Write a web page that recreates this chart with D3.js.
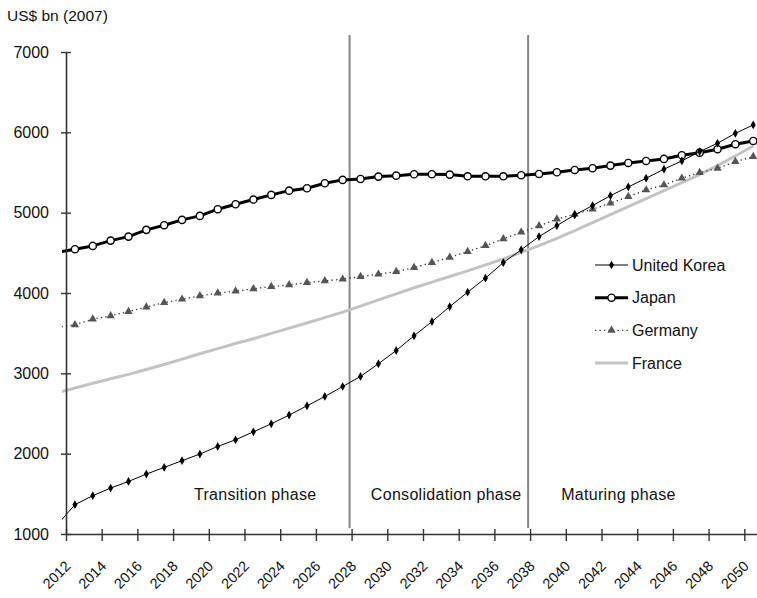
<!DOCTYPE html>
<html>
<head>
<meta charset="utf-8">
<script src="https://cdn.jsdelivr.net/npm/d3@7"></script>
<style>
  body { margin: 0; background: #fff; }
  text { font-family: "Liberation Sans", Arial, sans-serif; fill: #111; }
</style>
</head>
<body>
<svg id="chart" width="757" height="598"></svg>
<script>
// Years: 2011 is only the lead-in left of the axis (it gets clipped)
const years = d3.range(2011, 2051);

// US$ bn (2007)
const unitedKorea = [1113, 1365, 1477, 1572, 1654, 1746, 1829, 1912, 1995, 2090, 2173, 2272, 2372, 2480, 2596, 2712, 2836, 2961, 3119, 3284,
  3467, 3645, 3831, 4010, 4185, 4379, 4537, 4702, 4839, 4972, 5088, 5212, 5320, 5429, 5541, 5644, 5760, 5864, 5988, 6092];
const japan = [4505, 4545, 4586, 4652, 4702, 4786, 4844, 4910, 4960, 5043, 5105, 5163, 5221, 5274, 5304, 5366, 5408, 5420, 5449, 5461,
  5478, 5478, 5474, 5453, 5453, 5453, 5466, 5482, 5503, 5532, 5553, 5586, 5619, 5644, 5669, 5715, 5747, 5790, 5852, 5893];
const germany = [3575, 3604, 3675, 3716, 3769, 3824, 3881, 3923, 3964, 3998, 4023, 4052, 4081, 4101, 4130, 4151, 4172, 4205, 4234, 4267,
  4317, 4379, 4443, 4516, 4590, 4674, 4757, 4835, 4919, 4981, 5043, 5118, 5200, 5283, 5345, 5429, 5498, 5553, 5635, 5697];
const france = [2757, 2817, 2877, 2932, 2987, 3047, 3110, 3177, 3243, 3308, 3372, 3430, 3497, 3563, 3627, 3694, 3762, 3836, 3915, 3990,
  4065, 4135, 4205, 4275, 4350, 4425, 4505, 4590, 4680, 4775, 4875, 4975, 5075, 5175, 5275, 5375, 5475, 5585, 5705, 5830];

const seriesNames = ["United Korea", "Japan", "Germany", "France"];
const yTicks = [1000, 2000, 3000, 4000, 5000, 6000, 7000];
const xTickYears = d3.range(2012, 2051, 2);
const phaseBounds = [2028, 2038];
const phaseNames = ["Transition phase", "Consolidation phase", "Maturing phase"];
const phaseLabelYears = [2022.6, 2033.3, 2042.95];

const WIDTH = 757, HEIGHT = 598;
const PLOT_LEFT = 66, PLOT_TOP = 52, PLOT_BOTTOM = 534;
const STEP = 17.85; // one year

const svg = d3.select("#chart");

const xScale = d3.scaleLinear().domain([2012, 2051]).range([PLOT_LEFT, PLOT_LEFT + 39 * STEP]);
const yScale = d3.scaleLinear().domain([1000, 7000]).range([PLOT_BOTTOM, PLOT_TOP]);
// points sit in the middle of each year slot
const px = yr => xScale(yr + 0.5);

// style per series, same order as seriesNames
const styles = [
  { data: unitedKorea, stroke: "#000", width: 1, dash: null, marker: "diamond" },
  { data: japan, stroke: "#000", width: 3, dash: null, marker: "circle" },
  { data: germany, stroke: "#333", width: 1.3, dash: "1.3,3.2", marker: "triangle" },
  { data: france, stroke: "#c3c3c3", width: 3, dash: null, marker: null }
];

svg.append("defs").append("clipPath").attr("id", "plot-clip")
  .append("rect").attr("x", PLOT_LEFT - 4).attr("y", 0).attr("width", WIDTH).attr("height", HEIGHT);

// y axis title
svg.append("text").attr("x", 7).attr("y", 21).style("font-size", "15.5px").text("US$ bn (2007)");

// phase lines
svg.append("g").selectAll("line").data(phaseBounds).join("line")
  .attr("x1", d => xScale(d) - 2).attr("x2", d => xScale(d) - 2)
  .attr("y1", 35).attr("y2", PLOT_BOTTOM - 6)
  .attr("stroke", "#858585").attr("stroke-width", 2);

svg.append("g").selectAll("text").data(phaseNames).join("text")
  .attr("x", (d, i) => xScale(phaseLabelYears[i]))
  .attr("y", 500)
  .attr("text-anchor", "middle")
  .style("font-size", "16px")
  .style("letter-spacing", "0.3px")
  .text(d => d);

function drawMarker(g, type, x, y) {
  if (type === "circle") {
    g.append("circle").attr("cx", x).attr("cy", y).attr("r", 3.6)
      .attr("fill", "#fff").attr("stroke", "#000").attr("stroke-width", 1.4);
  } else if (type === "diamond") {
    g.append("path").attr("d", d3.symbol(d3.symbolDiamond, 22)())
      .attr("transform", `translate(${x},${y})`).attr("fill", "#000");
  } else if (type === "triangle") {
    g.append("path").attr("d", d3.symbol(d3.symbolTriangle, 30)())
      .attr("transform", `translate(${x},${y})`).attr("fill", "#555");
  }
}

// lines, France first so Korea ends on top
const lineGen = d3.line().x(d => px(d.year)).y(d => yScale(d.value));
const lines = svg.append("g").attr("clip-path", "url(#plot-clip)");
styles.slice().reverse().forEach(s => {
  const pts = years.map((yr, i) => ({ year: yr, value: s.data[i] }));
  lines.append("path").datum(pts)
    .attr("d", lineGen)
    .attr("fill", "none")
    .attr("stroke", s.stroke)
    .attr("stroke-width", s.width)
    .attr("stroke-dasharray", s.dash)
    .attr("stroke-linejoin", "round");
  if (s.marker) {
    const mg = lines.append("g");
    pts.filter(p => p.year >= 2012).forEach(p => drawMarker(mg, s.marker, px(p.year), yScale(p.value)));
  }
});

// axes
const yAxis = d3.axisLeft(yScale).tickValues(yTicks).tickFormat(d3.format("d")).tickSize(5).tickPadding(12).tickSizeOuter(0);
const yG = svg.append("g").attr("transform", `translate(${PLOT_LEFT},0)`).call(yAxis);
yG.selectAll(".tick line").attr("x1", 5);
yG.selectAll("text").style("font-size", "16px").attr("fill", "#111");

const xAxis = d3.axisBottom(xScale).tickValues(xTickYears).tickFormat(d3.format("d")).tickSize(7).tickSizeOuter(0);
const xG = svg.append("g").attr("transform", `translate(0,${PLOT_BOTTOM})`).call(xAxis);
xG.selectAll(".tick line").attr("y1", -5);
xG.selectAll("text")
  .attr("x", 0).attr("y", 0).attr("dy", 0)
  .attr("text-anchor", "end")
  .attr("transform", "translate(5,33) rotate(-45)")
  .style("font-size", "14.5px").attr("fill", "#111");

[yG, xG].forEach(g => {
  g.select(".domain").attr("stroke", "#333").attr("stroke-width", 1.6);
  g.selectAll(".tick line").attr("stroke", "#333").attr("stroke-width", 1.4);
});

// legend
const legend = svg.append("g");
seriesNames.forEach((name, i) => {
  const s = styles[i];
  const y = 265 + i * 32.7;
  legend.append("line").attr("x1", 595).attr("x2", 628).attr("y1", y).attr("y2", y)
    .attr("stroke", s.stroke).attr("stroke-width", s.width).attr("stroke-dasharray", s.dash);
  if (s.marker) drawMarker(legend, s.marker, 611.5, y);
  legend.append("text").attr("x", 632).attr("y", y).attr("dy", "0.36em")
    .style("font-size", "16px").text(name);
});
</script>
</body>
</html>
